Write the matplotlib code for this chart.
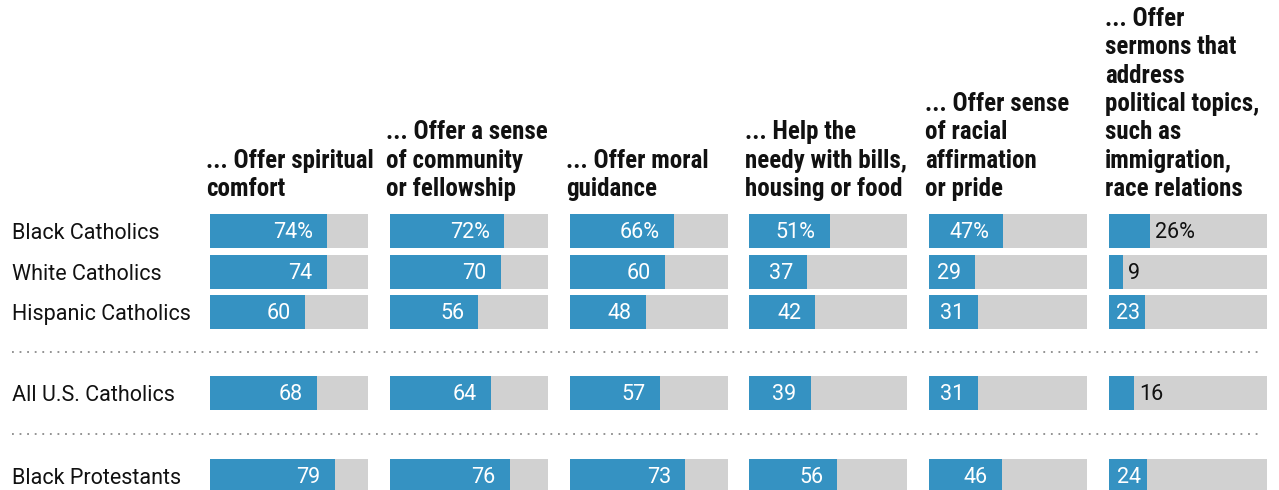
import matplotlib.pyplot as plt
from matplotlib.lines import Line2D

groups = ["Black Catholics", "White Catholics", "Hispanic Catholics",
          "All U.S. Catholics", "Black Protestants"]
headers = [
    "... Offer spiritual\ncomfort",
    "... Offer a sense\nof community\nor fellowship",
    "... Offer moral\nguidance",
    "... Help the\nneedy with bills,\nhousing or food",
    "... Offer sense\nof racial\naffirmation\nor pride",
    "... Offer\nsermons that\naddress\npolitical topics,\nsuch as\nimmigration,\nrace relations",
]
spiritual = [74, 74, 60, 68, 79]
community = [72, 70, 56, 64, 76]
moral = [66, 60, 48, 57, 73]
needy = [51, 37, 42, 39, 56]
racial = [47, 29, 31, 31, 46]
sermons = [26, 9, 23, 16, 24]
columns = [spiritual, community, moral, needy, racial, sermons]

W, H = 1279, 490
BLUE = "#3592c2"
GRAY = "#d1d1d1"
LABEL_FONT = ["Roboto", "DejaVu Sans"]
HEAD_FONT = ["Roboto Condensed", "DejaVu Sans"]
col_x = [210, 390, 570, 749, 929, 1109]
col_w = 158
row_y = [231, 272, 312, 393, 476]
bar_h = 34

fig = plt.figure(figsize=(W / 100, H / 100), dpi=100)
bg = fig.add_axes([0, 0, 1, 1])
bg.set_xlim(0, W)
bg.set_ylim(H, 0)
bg.axis("off")

# row labels
for g, y in zip(groups, row_y):
    bg.text(12, y + 2.5, g, fontsize=15.5, family=LABEL_FONT, va="center", ha="left", color="#111111")

# dotted separators
for y in [352, 434]:
    bg.add_line(Line2D([12, 1260], [y, y], color="#8a8a8a", lw=1.3, ls=(0, (1, 3.2))))

# headers
for x, h in zip(col_x, headers):
    bg.text(x - 4, 201, h, fontsize=18, family=HEAD_FONT,
            fontweight="bold", va="bottom", ha="left", linespacing=1.23, color="#111111")

# bars per column
for cx, vals in zip(col_x, columns):
    ax = fig.add_axes([cx / W, 0, col_w / W, (H - 200) / H])
    ax.set_xlim(0, 100)
    ax.set_ylim(H, 200)
    ax.axis("off")
    ax.barh(row_y, [100] * len(vals), height=bar_h, color=GRAY)
    ax.barh(row_y, vals, height=bar_h, color=BLUE)
    for i, (v, y) in enumerate(zip(vals, row_y)):
        lab = f"{v}%" if i == 0 else f"{v}"
        outside = v < 20 or (v < 27 and "%" in lab)
        if outside:
            ax.text(v + 3, y + 1.5, lab, fontsize=15.5, family=LABEL_FONT,
                    color="#111111", va="center", ha="left", clip_on=False)
        else:
            xr = max(v - 9, len(lab) * 9 + 2)
            ax.text(xr, y + 1.5, lab, fontsize=15.5, family=LABEL_FONT,
                    color="white", va="center", ha="right", clip_on=False)

fig.savefig("out.png", dpi=100)
